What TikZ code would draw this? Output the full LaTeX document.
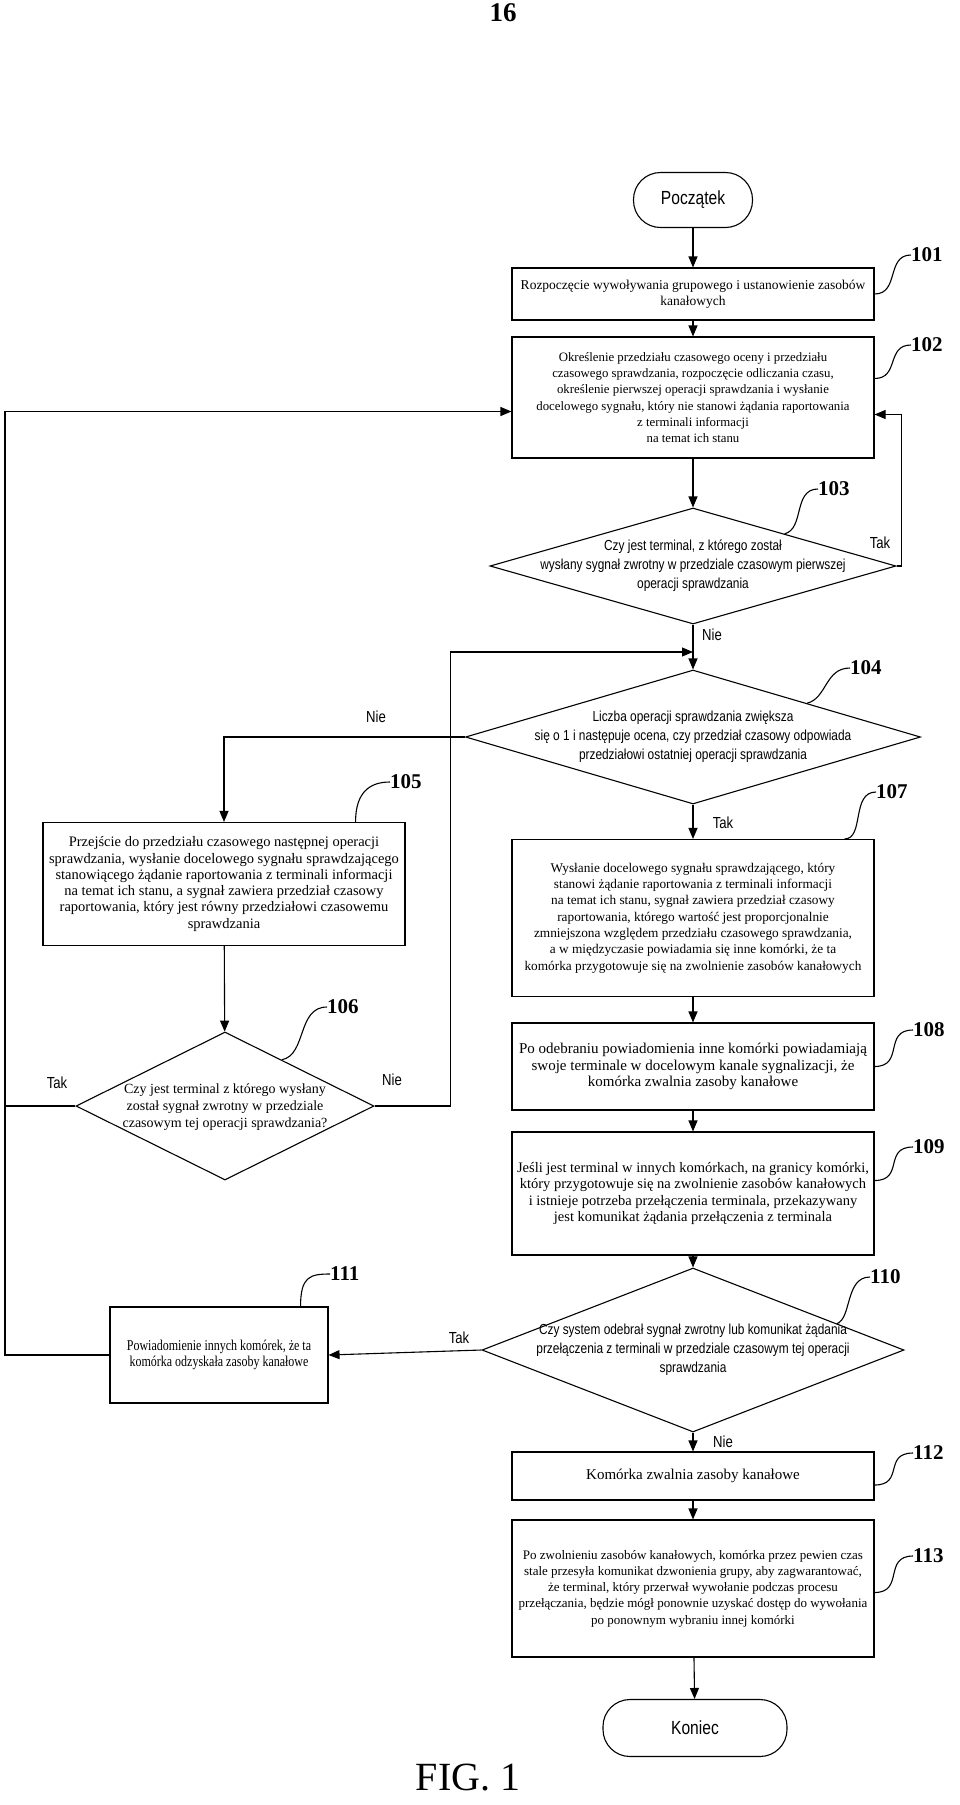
\documentclass[tikz,border=0pt]{standalone}
\usepackage{fontspec}
\setmainfont{Liberation Serif}
\newfontfamily\narrowsans[FakeStretch=0.82]{Liberation Sans}
\newfontfamily\narrowserif[FakeStretch=0.8]{Liberation Serif}
\usetikzlibrary{positioning,shapes}
\usetikzlibrary{arrows.meta, positioning, calc}

\tikzset{
    boxnode/.style={draw, line width=1.1pt, rectangle, minimum width=362pt, inner sep=3pt, align=center, font=\fontsize{#1}{16.3}\selectfont},
    boxnode/.default=13.5,
    decnode/.style={draw, line width=1.1pt, diamond, inner sep=0pt},
    dectext/.style={align=center, font=\narrowsans\fontsize{14.5}{19}\selectfont},
    termnode/.style={draw, line width=1.1pt, rectangle, rounded corners=27pt, font=\narrowsans\fontsize{19}{19}\selectfont},
    flow/.style={line width=1.1pt, -{Triangle[length=11pt, width=9pt]}},
    leader/.style={line width=1.1pt},
    refnum/.style={anchor=west, inner sep=0pt, font=\bfseries\fontsize{21}{21}\selectfont},
    yesno/.style={font=\narrowsans\fontsize{16}{16}\selectfont}
}

\begin{document}
\begin{tikzpicture}[x=1pt, y=-1pt]
    \useasboundingbox (0,0) rectangle (960,1805);

    % Page number and caption
    \node[font=\bfseries\fontsize{27}{27}\selectfont] (page) at (503,13) {16};
    \node[inner sep=0pt, font=\fontsize{40}{40}\selectfont] (fig) at (468,1778) {FIG. 1};

    % Main column
    \node[termnode, minimum width=119pt, minimum height=55pt] (start) at (693,200) {Początek};
    \node[boxnode, minimum height=52pt] (b101) at (693,294) {Rozpoczęcie wywoływania grupowego i ustanowienie zasobów\\kanałowych};
    \node[boxnode=12.8, minimum height=121pt] (b102) at (693,397.5) {Określenie przedziału czasowego oceny i przedziału\\czasowego sprawdzania, rozpoczęcie odliczania czasu,\\określenie pierwszej operacji sprawdzania i wysłanie\\docelowego sygnału, który nie stanowi żądania raportowania\\z terminali informacji\\na temat ich stanu};
    \node[decnode, minimum width=406pt, minimum height=116pt] (d103) at (693,566) {};
    \node[dectext] (t103) at (d103) {Czy jest terminal, z którego został\\wysłany sygnał zwrotny w przedziale czasowym pierwszej\\operacji sprawdzania};
    \node[decnode, minimum width=455pt, minimum height=134pt] (d104) at (693,737) {};
    \node[dectext] (t104) at (d104) {Liczba operacji sprawdzania zwiększa\\się o 1 i następuje ocena, czy przedział czasowy odpowiada\\przedziałowi ostatniej operacji sprawdzania};
    \node[boxnode=13.3, minimum height=157pt] (b107) at (693,918) {Wysłanie docelowego sygnału sprawdzającego, który\\stanowi żądanie raportowania z terminali informacji\\na temat ich stanu, sygnał zawiera przedział czasowy\\raportowania, którego wartość jest proporcjonalnie\\zmniejszona względem przedziału czasowego sprawdzania,\\a w międzyczasie powiadamia się inne komórki, że ta\\komórka przygotowuje się na zwolnienie zasobów kanałowych};
    \node[boxnode=15, minimum height=87pt] (b108) at (693,1066.5) {Po odebraniu powiadomienia inne komórki powiadamiają\\swoje terminale w docelowym kanale sygnalizacji, że\\komórka zwalnia zasoby kanałowe};
    \node[boxnode=14.5, minimum height=123pt] (b109) at (693,1193.5) {Jeśli jest terminal w innych komórkach, na granicy komórki,\\który przygotowuje się na zwolnienie zasobów kanałowych\\i istnieje potrzeba przełączenia terminala, przekazywany\\jest komunikat żądania przełączenia z terminala};
    \node[decnode, minimum width=422pt, minimum height=164pt] (d110) at (693,1350) {};
    \node[dectext] (t110) at (d110) {Czy system odebrał sygnał zwrotny lub komunikat żądania\\przełączenia z terminali w przedziale czasowym tej operacji\\sprawdzania};
    \node[boxnode=15, minimum height=48pt] (b112) at (693,1476) {Komórka zwalnia zasoby kanałowe};
    \node[boxnode=13, minimum height=137pt] (b113) at (693,1588.5) {Po zwolnieniu zasobów kanałowych, komórka przez pewien czas\\stale przesyła komunikat dzwonienia grupy, aby zagwarantować,\\że terminal, który przerwał wywołanie podczas procesu\\przełączania, będzie mógł ponownie uzyskać dostęp do wywołania\\po ponownym wybraniu innej komórki};
    \node[termnode, minimum width=184pt, minimum height=57pt] (end) at (695,1728) {Koniec};

    % Left column
    \node[boxnode=14.5, minimum height=123pt] (b105) at (224,884) {Przejście do przedziału czasowego następnej operacji\\sprawdzania, wysłanie docelowego sygnału sprawdzającego\\stanowiącego żądanie raportowania z terminali informacji\\na temat ich stanu, a sygnał zawiera przedział czasowy\\raportowania, który jest równy przedziałowi czasowemu\\sprawdzania};
    \node[decnode, minimum width=298pt, minimum height=148pt] (d106) at (225,1106) {};
    \node[align=center, font=\fontsize{14}{17}\selectfont] (t106) at (225,1107) {Czy jest terminal z którego wysłany\\został sygnał zwrotny w przedziale\\czasowym tej operacji sprawdzania?};
    \node[boxnode=15, minimum width=218pt, minimum height=96pt, font=\narrowserif\fontsize{15}{15.5}\selectfont] (b111) at (219,1355) {Powiadomienie innych komórek, że ta\\komórka odzyskała zasoby kanałowe};

    \coordinate (lft) at (5,0);
    \coordinate (j104) at (693,652);

    % Flow
    \draw[flow] (start) -- (b101);
    \draw[flow] (b101) -- (b102);
    \draw[flow] (b102) -- (d103);
    \draw[flow] (d103.east) -- ++(5,0) |- ([yshift=-17pt]b102.east);
    \draw[flow] (d103.south) -- (d104.north);
    \draw[flow] (d104.west) -| (b105.north);
    \draw[flow] (d104.south) -- (b107.north);
    \draw[flow] (b105) -- (d106);
    \draw[flow] (d106.east) -- ++(76,0) |- (j104);
    \draw[leader] (d106.west) -- (d106.west -| lft);
    \draw[flow] (b107) -- (b108);
    \draw[flow] (b108) -- (b109);
    \draw[flow] (b109) -- (d110);
    \draw[flow] (d110.west) -- (b111.east);
    \draw[flow] (d110.south) -- (b112.north);
    \draw[flow] (b111.west) -- (b111.west -| lft) |- ([yshift=-14pt]b102.west);
    \draw[flow] (b112) -- (b113);
    \draw[flow] (b113) -- (end);

    % Tak / Nie
    \node[yesno] (y103) at (880,543) {Tak};
    \node[yesno] (n103) at (712,635) {Nie};
    \node[yesno] (n104) at (376,717) {Nie};
    \node[yesno] (y104) at (723,823) {Tak};
    \node[yesno] (y106) at (57,1083) {Tak};
    \node[yesno] (n106) at (392,1080) {Nie};
    \node[yesno] (y110) at (459,1338) {Tak};
    \node[yesno] (n110) at (723,1442) {Nie};

    % Reference numbers
    \node[refnum] (r101) at (911,255) {101};
    \node[refnum] (r102) at (911,345) {102};
    \node[refnum] (r103) at (818,489) {103};
    \node[refnum] (r104) at (850,668) {104};
    \node[refnum] (r105) at (390,782) {105};
    \node[refnum] (r106) at (327,1007) {106};
    \node[refnum] (r107) at (876,792) {107};
    \node[refnum] (r108) at (913,1030) {108};
    \node[refnum] (r109) at (913,1147) {109};
    \node[refnum] (r110) at (870,1277) {110};
    \node[refnum] (r111) at (330,1274) {111};
    \node[refnum] (r112) at (913,1453) {112};
    \node[refnum] (r113) at (913,1556) {113};

    \draw[leader] (b101.east) .. controls +(25,0) and +(-25,0) .. (r101.west);
    \draw[leader] ([yshift=19pt]b102.east) .. controls +(25,0) and +(-25,0) .. (r102.west);
    \draw[leader] ($(d103.north)!0.45!(d103.east)$) .. controls +(20,-5) and +(-25,0) .. (r103.west);
    \draw[leader] ($(d104.north)!0.5!(d104.east)$) .. controls +(20,-5) and +(-25,0) .. (r104.west);
    \draw[leader] ([xshift=-50pt]b105.north east) .. controls +(0,-30) and +(-20,0) .. (r105.west);
    \draw[leader] ($(d106.north)!0.38!(d106.east)$) .. controls +(25,-5) and +(-30,0) .. (r106.west);
    \draw[leader] ([xshift=-30pt]b107.north east) .. controls +(20,0) and +(-25,0) .. (r107.west);
    \draw[leader] (b108.east) .. controls +(30,0) and +(-30,0) .. (r108.west);
    \draw[leader] ([yshift=13pt]b109.east) .. controls +(30,0) and +(-30,0) .. (r109.west);
    \draw[leader] ($(d110.north)!0.68!(d110.east)$) .. controls +(15,-5) and +(-25,0) .. (r110.west);
    \draw[leader] ([xshift=-28pt]b111.north east) .. controls +(0,-30) and +(-20,0) .. (r111.west);
    \draw[leader] ([yshift=-9pt]b112.east) .. controls +(30,0) and +(-30,0) .. (r112.west);
    \draw[leader] ([yshift=-4pt]b113.east) .. controls +(30,0) and +(-30,0) .. (r113.west);
\end{tikzpicture}
\end{document}
